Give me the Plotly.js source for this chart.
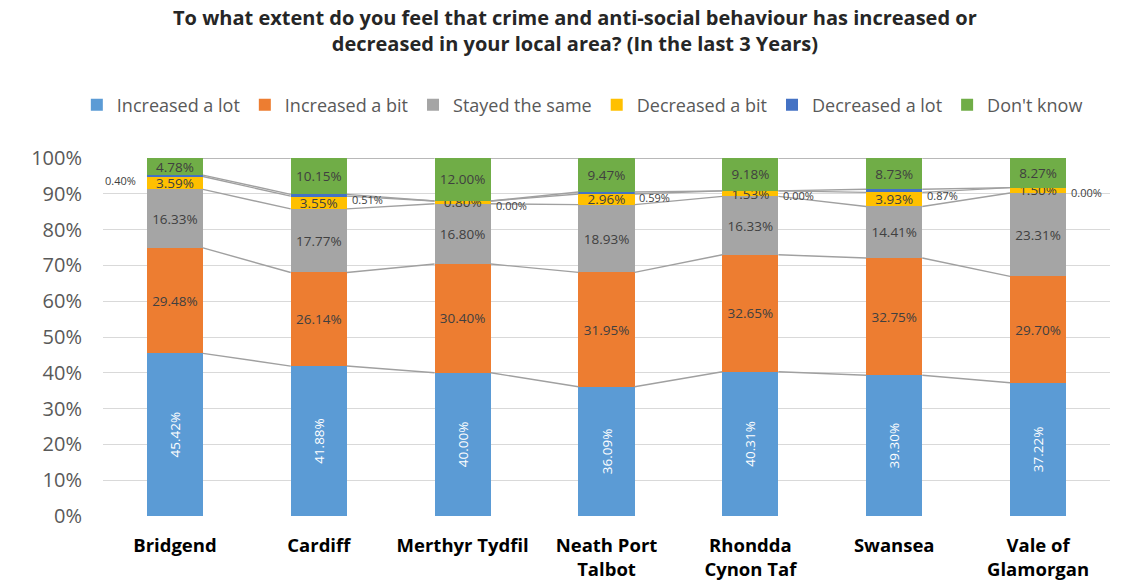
<!DOCTYPE html>
<html>
<head>
<meta charset="utf-8">
<script src="https://cdn.plot.ly/plotly-3.0.1.min.js"></script>
<style>html,body{margin:0;padding:0;background:#fff;}#chart{width:1125px;height:583px;}</style>
</head>
<body>
<div id="chart"></div>
<script>
const areas = ["Bridgend", "Cardiff", "Merthyr Tydfil", "Neath Port<br>Talbot", "Rhondda<br>Cynon Taf", "Swansea", "Vale of<br>Glamorgan"];
const seriesNames = ["Increased a lot", "Increased a bit", "Stayed the same", "Decreased a bit", "Decreased a lot", "Don't know"];
const increasedLot = [45.42, 41.88, 40.00, 36.09, 40.31, 39.30, 37.22];
const increasedBit = [29.48, 26.14, 30.40, 31.95, 32.65, 32.75, 29.70];
const stayedSame = [16.33, 17.77, 16.80, 18.93, 16.33, 14.41, 23.31];
const decreasedBit = [3.59, 3.55, 0.80, 2.96, 1.53, 3.93, 1.50];
const decreasedLot = [0.40, 0.51, 0.00, 0.59, 0.00, 0.87, 0.00];
const dontKnow = [4.78, 10.15, 12.00, 9.47, 9.18, 8.73, 8.27];
const yTicks = [0, 10, 20, 30, 40, 50, 60, 70, 80, 90, 100];

const allSeries = [increasedLot, increasedBit, stayedSame, decreasedBit, decreasedLot, dontKnow];
const colors = ["#5B9BD5", "#ED7D31", "#A5A5A5", "#FFC000", "#4472C4", "#70AD47"];
const xs = areas.map((_, i) => i);
const barW = 0.39;
const fmt = v => v.toFixed(2) + "%";
const FONT = "Open Sans, sans-serif";
const labelFont = {family: FONT, size: 13.5, color: "#404040"};

const traces = [];
const cum = [];
let run = xs.map(() => 0);
allSeries.forEach(s => { run = run.map((r, i) => r + s[i]); cum.push(run.slice()); });
cum.forEach((c, si) => {
  const lx = [], ly = [];
  for (let i = 0; i < xs.length - 1; i++) {
    lx.push(xs[i] + barW / 2, xs[i + 1] - barW / 2, null);
    ly.push(c[i], c[i + 1], null);
  }
  traces.push({type: "scatter", mode: "lines", x: lx, y: ly, line: {color: "#A0A0A0", width: 1.4},
    showlegend: false, hoverinfo: "skip"});
});

allSeries.forEach((s, si) => {
  const t = {
    type: "bar", name: seriesNames[si], x: xs, y: s, width: barW,
    marker: {color: colors[si], line: {width: 0}},
    hoverinfo: "name+y"
  };
  if (si !== 4) {
    t.text = s.map(fmt);
    t.textposition = "inside";
    t.insidetextanchor = "middle";
    t.constraintext = "none";
    t.textangle = si === 0 ? -90 : 0;
    t.insidetextfont = si === 0 ? {family: FONT, size: 13.5, color: "#FFFFFF"} : labelFont;
  } else {
    t.textposition = "none";
  }
  traces.push(t);
});

const annotations = decreasedLot.map((v, i) => {
  const base = cum[3][i];
  const left = i === 0;
  return {
    x: left ? xs[i] - barW / 2 - 0.06 : xs[i] + barW / 2 + 0.02,
    y: base + v / 2 - 1.3,
    xref: "x", yref: "y", text: fmt(v), showarrow: false,
    xanchor: left ? "right" : "left", yanchor: "middle",
    font: {family: FONT, size: 11, color: "#404040"}
  };
});

const layout = {
  width: 1125, height: 583,
  margin: {l: 103, r: 15, t: 158, b: 67},
  paper_bgcolor: "#FFFFFF", plot_bgcolor: "#FFFFFF",
  barmode: "stack",
  title: {
    text: "<b>To what extent do you feel that crime and anti-social behaviour has increased or<br>decreased in your local area? (In the last 3 Years)</b>",
    font: {family: FONT, size: 20, color: "#262626"},
    x: 0.511, xref: "container", xanchor: "center",
    y: 0.957, yref: "container", yanchor: "top"
  },
  legend: {
    orientation: "h", x: 0.476, xanchor: "center", y: 1.148, yanchor: "middle",
    font: {family: FONT, size: 18, color: "#595959"},
    traceorder: "normal", itemwidth: 30, tracegroupgap: 0
  },
  xaxis: {
    range: [-0.5, 6.5], tickmode: "array", tickvals: xs, ticktext: areas.map(a => "<b>" + a + "</b>"),
    showgrid: false, zeroline: false, showline: false, ticks: "",
    tickfont: {family: FONT, size: 18.5, color: "#000000"}, ticklabelstandoff: 16
  },
  yaxis: {
    range: [0, 100], tickmode: "array", tickvals: yTicks, ticktext: yTicks.map(v => v + "%"),
    showgrid: true, gridcolor: "#D9D9D9", gridwidth: 1.3, zeroline: false, showline: false,
    tickfont: {family: FONT, size: 20, color: "#595959"}, ticks: "", ticklabelstandoff: 20
  },
  annotations: annotations
};

Plotly.newPlot("chart", traces, layout, {displayModeBar: false, responsive: false});
</script>
</body>
</html>
